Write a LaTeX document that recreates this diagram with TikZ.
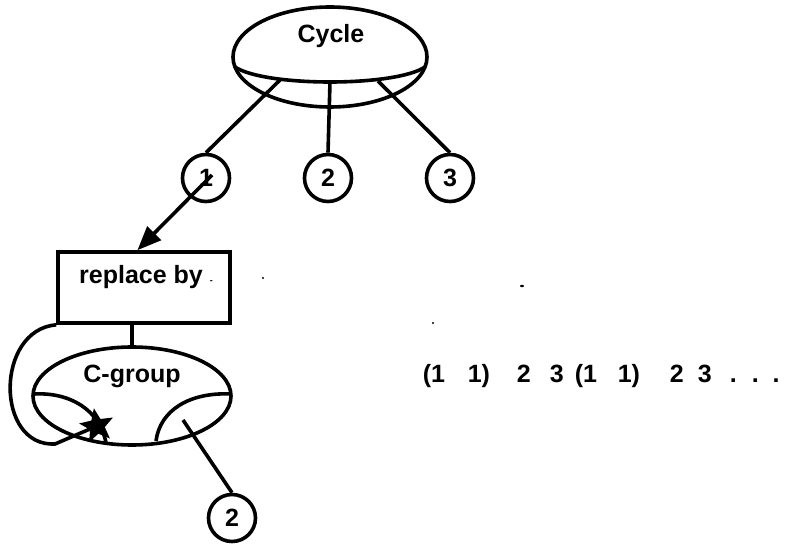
\documentclass[tikz,border=0pt]{standalone}
\usepackage{fontspec}
\setmainfont{Liberation Sans}
\usetikzlibrary{shapes.geometric,arrows.meta}
\begin{document}
\begin{tikzpicture}[x=1pt,y=-1pt,line width=3.6pt,
  txt/.style={font=\fontsize{25}{27}\selectfont\bfseries,inner sep=0pt},
  num/.style={circle,draw,minimum size=47pt,inner sep=0pt,font=\fontsize{25}{27}\selectfont\bfseries},
  oval/.style={ellipse,draw,inner sep=0pt},
  boxst/.style={rectangle,draw,inner sep=0pt},
  noise/.style={fill=black,draw=none}]
\useasboundingbox (0,0) rectangle (788,548);
% Cycle
\node[oval,minimum width=194pt,minimum height=100pt] (cyc) at (330,57) {};
\node[txt,anchor=base] (cyctxt) at (331,43) {Cycle};
\draw (235,67) .. controls (265,87) and (395,87) .. (425,67);
\coordinate (l1) at (280,80);
\coordinate (l2) at (330,82);
\coordinate (l3) at (378,81);
\node[num] (c1) at (206,178) {1};
\node[num] (c2) at (328,178) {2};
\node[num] (c3) at (450,178) {3};
\draw (l1) -- (c1.north);
\draw (l2) -- (c2.north);
\draw (l3) -- (c3.north);
% replace box
\node[boxst,minimum width=172pt,minimum height=71pt] (box) at (144,287.5) {};
\node[txt,anchor=base] (boxtxt) at (146,284) {replace by {\fontsize{9}{9}\selectfont -}};
\coordinate (a0) at (212,175);
\draw[-{Triangle[length=24pt,width=19pt]}] (a0) -- (box.100);
% C-group
\node[oval,minimum width=198pt,minimum height=98pt] (cg) at (132,396) {};
\node[txt,anchor=base] (cgtxt) at (132,382) {C-group};
\draw (box.south -| cg.north) -- (cg.north);
\draw (34,394) .. controls (70,392) and (100,410) .. (106,443);
\draw (231,394) .. controls (190,392) and (160,410) .. (156,441);
\coordinate (l4) at (183,420);
\node[num] (c4) at (232,518) {2};
\draw (l4) -- (c4.north);
% loop with star
\node[star,star points=5,star point ratio=2.3,fill=black,draw=none,minimum size=36pt,inner sep=0pt,rotate=10] (st) at (97,426) {};
\draw (box.south west) .. controls (-5,330) and (-5,447) .. (55,444) -- (st.center);
% sequence
\node[txt,anchor=base west] (s1) at (421,382) {(1};
\node[txt,anchor=base west] (s2) at (466,382) {1)};
\node[txt,anchor=base west] (s3) at (515,382) {2};
\node[txt,anchor=base west] (s4) at (548,382) {3};
\node[txt,anchor=base west] (s5) at (573,382) {(1};
\node[txt,anchor=base west] (s6) at (616,382) {1)};
\node[txt,anchor=base west] (s7) at (668,382) {2};
\node[txt,anchor=base west] (s8) at (696,382) {3};
\node[txt,anchor=base west] (s9) at (728,382) {.\hspace{15pt}.\hspace{14pt}.};
% scan specks
\fill[noise] (263,278) circle (1.2pt);
\fill[noise] (522,286) ellipse (2pt and 1.2pt);
\fill[noise] (433,323) circle (1.2pt);
\end{tikzpicture}
\end{document}
